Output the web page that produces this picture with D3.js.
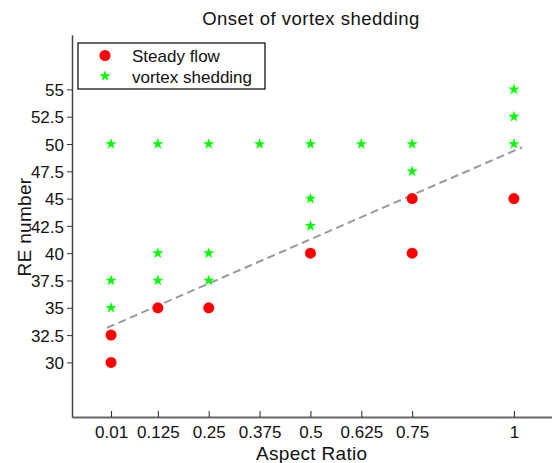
<!DOCTYPE html>
<html>
<head>
<meta charset="utf-8">
<script src="https://cdn.jsdelivr.net/npm/d3@7"></script>
<style>
  html, body { margin: 0; padding: 0; background: #fff; }
  svg { display: block; font-family: "Liberation Sans", Arial, sans-serif; }
</style>
</head>
<body>
<svg id="chart" width="552" height="463"></svg>
<script>
// ---- data ----
const steadyX = [0.01, 0.01, 0.125, 0.25, 0.5, 0.75, 0.75, 1];
const steadyY = [30, 32.5, 35, 35, 40, 40, 45, 45];
const vortexX = [0.01, 0.01, 0.01, 0.125, 0.125, 0.125, 0.25, 0.25, 0.25, 0.375, 0.5, 0.5, 0.5, 0.625, 0.75, 0.75, 1, 1, 1];
const vortexY = [35, 37.5, 50, 37.5, 40, 50, 37.5, 40, 50, 50, 42.5, 45, 50, 50, 47.5, 50, 50, 52.5, 55];
const fitX = [0, 1.02];
const fitY = [33.17, 49.7];
const xTicks = [0.01, 0.125, 0.25, 0.375, 0.5, 0.625, 0.75, 1];
const xTickLabels = ["0.01", "0.125", "0.25", "0.375", "0.5", "0.625", "0.75", "1"];
const yTicks = [30, 32.5, 35, 37.5, 40, 42.5, 45, 47.5, 50, 52.5, 55];
const yTickLabels = ["30", "32.5", "35", "37.5", "40", "42.5", "45", "47.5", "50", "52.5", "55"];
const titleText = "Onset of vortex shedding";
const xLabel = "Aspect Ratio";
const yLabel = "RE number";
const legendLabels = ["Steady flow", "vortex shedding"];

// ---- layout ----
const svg = d3.select("#chart");
const left = 72, bottom = 417;
const x = d3.scaleLinear().domain([-0.086, 1.1]).range([left, left + 1.186 * 406.9]);
const y = d3.scaleLinear().domain([25, 60]).range([bottom, 34.8]);

// fit line
svg.append("path")
  .datum(fitX.map((v, i) => [v, fitY[i]]))
  .attr("d", d3.line().x(d => x(d[0])).y(d => y(d[1])))
  .attr("fill", "none")
  .attr("stroke", "#999")
  .attr("stroke-width", 2)
  .attr("stroke-dasharray", "8,4.5");

// bottom axis (ticks inward)
const xAxis = d3.axisBottom(x).tickValues(xTicks).tickFormat((d, i) => xTickLabels[i])
  .tickSizeInner(-6).tickSizeOuter(0).tickPadding(9);
const gx = svg.append("g").attr("transform", `translate(0,${bottom})`).call(xAxis);
gx.select(".domain").attr("stroke", "#666").attr("stroke-width", 2);
gx.selectAll(".tick line").attr("stroke", "#222").attr("stroke-width", 1);
gx.selectAll(".tick text").attr("font-size", 17).attr("fill", "#111")
  .attr("font-family", "Liberation Sans, Arial, sans-serif").attr("dy", "0.71em");

// left axis (ticks outward)
const yAxis = d3.axisLeft(y).tickValues(yTicks).tickFormat((d, i) => yTickLabels[i])
  .tickSizeInner(5).tickSizeOuter(0).tickPadding(3);
const gy = svg.append("g").attr("transform", `translate(${left},0)`).call(yAxis);
gy.select(".domain").attr("stroke", "#444").attr("stroke-width", 1.5);
gy.selectAll(".tick line").attr("stroke", "#333").attr("stroke-width", 1);
gy.selectAll(".tick text").attr("font-size", 17).attr("fill", "#111")
  .attr("font-family", "Liberation Sans, Arial, sans-serif").attr("dy", "0.36em");

// steady flow points
svg.append("g").selectAll("circle")
  .data(steadyX.map((v, i) => [v, steadyY[i]]))
  .join("circle")
  .attr("cx", d => x(d[0])).attr("cy", d => y(d[1]))
  .attr("r", 5.5).attr("fill", "#ff0000");

// vortex shedding points
const star = d3.symbol().type(d3.symbolStar).size(40);
svg.append("g").selectAll("path")
  .data(vortexX.map((v, i) => [v, vortexY[i]]))
  .join("path")
  .attr("d", star)
  .attr("transform", d => `translate(${x(d[0])},${y(d[1])})`)
  .attr("fill", "#00ff00");

// legend
const lg = svg.append("g");
lg.append("rect").attr("x", 78).attr("y", 43).attr("width", 187).attr("height", 46)
  .attr("fill", "#fff").attr("stroke", "#000").attr("stroke-width", 1.2);
lg.append("circle").attr("cx", 105).attr("cy", 55.5).attr("r", 5.5).attr("fill", "#ff0000");
lg.append("path").attr("d", star).attr("transform", "translate(105,76)").attr("fill", "#00ff00");
lg.selectAll("text").data(legendLabels).join("text")
  .attr("x", 132).attr("y", (d, i) => i === 0 ? 61.7 : 83)
  .attr("font-size", 17).attr("fill", "#111").text(d => d);

// title and axis labels
svg.append("text").attr("x", 311).attr("y", 25).attr("text-anchor", "middle")
  .attr("font-size", 18.5).attr("letter-spacing", "0.5px").attr("fill", "#111").text(titleText);
svg.append("text").attr("x", 311.7).attr("y", 460).attr("text-anchor", "middle")
  .attr("font-size", 19).attr("letter-spacing", "0.3px").attr("fill", "#111").text(xLabel);
svg.append("text").attr("transform", "translate(31,227) rotate(-90)").attr("text-anchor", "middle")
  .attr("font-size", 19).attr("letter-spacing", "0.3px").attr("fill", "#111").text(yLabel);
</script>
</body>
</html>
